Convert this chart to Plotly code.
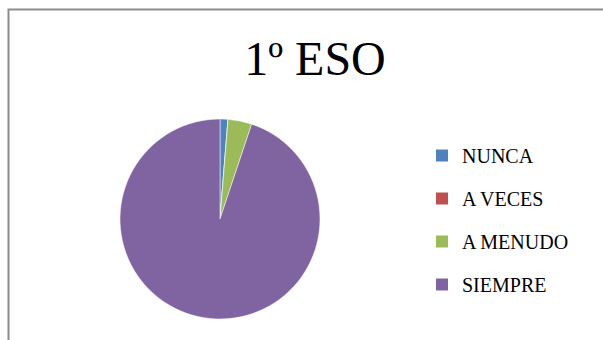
import plotly.graph_objects as go

labels = ["NUNCA", "A VECES", "A MENUDO", "SIEMPRE"]
values = [1, 0, 3, 74]
colors = ["#4F81BD", "#C0504D", "#9BBB59", "#8064A2"]
title_text = "1º ESO"

W, H = 603, 340
font_family = "Liberation Serif, Times New Roman, serif"

fig = go.Figure()
fig.add_trace(go.Pie(
    labels=labels, values=values, sort=False, direction="clockwise", rotation=0,
    marker=dict(colors=colors, line=dict(color="white", width=0.5)),
    textinfo="none", hoverinfo="label+value+percent", showlegend=False,
    domain=dict(x=[120 / W, 320 / W], y=[1 - 319 / H, 1 - 119 / H]),
))
for i, (lab, col) in enumerate(zip(labels, colors)):
    fig.add_trace(go.Scatter(
        x=[None], y=[None], mode="markers", name=lab,
        marker=dict(symbol="square", size=12, color=col),
        legendgroup=f"g{i}", showlegend=True, hoverinfo="skip",
    ))

fig.update_layout(
    width=W, height=H,
    margin=dict(l=0, r=0, t=0, b=0),
    paper_bgcolor="white", plot_bgcolor="white",
    xaxis=dict(visible=False), yaxis=dict(visible=False),
    title=dict(text=title_text, x=315 / W, xanchor="center", y=1 - 58 / H, yanchor="middle",
               font=dict(family=font_family, size=48, color="black")),
    legend=dict(x=422 / W, xanchor="left", y=1 - 136 / H, yanchor="top",
                font=dict(family=font_family, size=20, color="black"),
                tracegroupgap=14, itemwidth=30, bgcolor="rgba(0,0,0,0)"),
    shapes=[dict(type="rect", xref="paper", yref="paper",
                 x0=8.5 / W, x1=1.05, y0=-0.05, y1=1 - 9.5 / H,
                 line=dict(color="#8c8c8c", width=2), fillcolor="rgba(0,0,0,0)")],
)

fig.write_html(
    "out.html",
    config={"displayModeBar": False},
    post_script="document.body.style.margin='0';document.body.style.overflow='hidden';",
)
